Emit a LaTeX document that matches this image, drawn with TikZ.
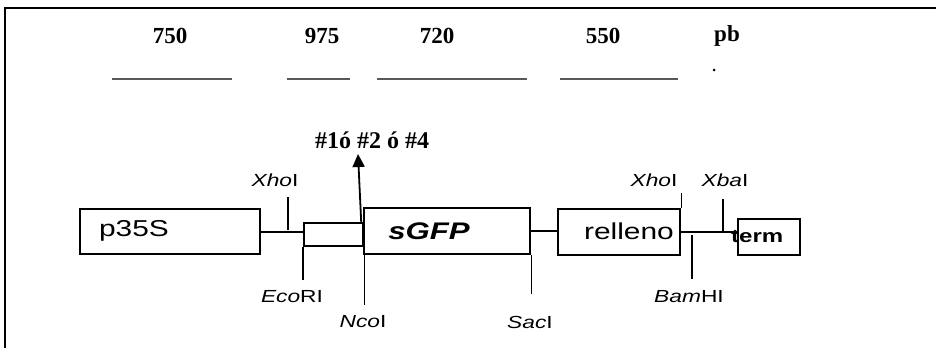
\documentclass[tikz,border=0pt]{standalone}
\usepackage{fontspec}
\setmainfont{Liberation Serif}
\setsansfont{Liberation Sans}
\usetikzlibrary{arrows.meta}
\newcommand{\wide}[1]{\scalebox{1.3}[1]{#1}}
\tikzset{
  segbox/.style={draw,line width=2.2pt,inner sep=0pt,anchor=north west},
  bigtxt/.style={font=\sffamily\fontsize{23}{23}\selectfont,inner sep=0pt},
  sitetxt/.style={font=\sffamily\fontsize{17.5}{17.5}\selectfont,inner sep=0pt},
  sizetxt/.style={font=\bfseries\fontsize{23}{23}\selectfont,inner sep=0pt},
  sizebar/.style={line width=1.1pt,black!65},
  cut/.style={line width=1.4pt}
}
\begin{document}
\begin{tikzpicture}[x=1pt,y=-1pt]
\useasboundingbox (0,0) rectangle (936,348);
% frame (only left and top)
\draw[line width=2pt] (5,348) -- (5,8) -- (936,8);

% fragment sizes
\node[sizetxt] (s750) at (170,36) {750};
\node[sizetxt] (s975) at (322,36) {975};
\node[sizetxt] (s720) at (437,36) {720};
\node[sizetxt] (s550) at (603,36) {550};
\node[sizetxt] (pb) at (727,36) {pb};
\draw[sizebar] (112,79) -- (232,79);
\draw[sizebar] (287,79) -- (350,79);
\draw[sizebar] (377,79) -- (527,79);
\draw[sizebar] (560,79) -- (678,79);
\fill (714,70) circle (1.5);

% construct
\node[segbox,minimum width=180pt,minimum height=45pt] (p35s) at (79,208) {};
\node[segbox,minimum width=59pt,minimum height=23pt] (link) at (303,222) {};
\node[segbox,minimum width=166pt,minimum height=46pt] (gfp) at (363,207) {};
\node[segbox,minimum width=122pt,minimum height=46pt] (relleno) at (557,208) {};
\node[segbox,minimum width=62pt,minimum height=36pt] (term) at (737,218) {};

\node[bigtxt] (p35stxt) at (134,231) {\wide{p35S}};
\node[bigtxt,font=\sffamily\bfseries\itshape\fontsize{24}{24}\selectfont] (gfptxt) at (429,231) {\wide{sGFP}};
\node[bigtxt] (rellenotxt) at (629,231) {\wide{relleno}};
\node[sitetxt,font=\sffamily\bfseries\fontsize{18.5}{18.5}\selectfont,anchor=west] (termtxt) at (731,237) {\wide{term}};

\draw[line width=1.8pt] (p35s.east) -- (p35s.east -| link.west);
\draw[line width=1.8pt] (gfp.east) -- (gfp.east -| relleno.west);
\draw[line width=1.8pt] (relleno.east) -- (relleno.east -| term.west);

% restriction sites
\coordinate (xho1) at (288,230);
\draw[cut] (xho1) -- ++(0,-33) coordinate (xho1top);
\node[sitetxt] (xho1txt) at (275,180) {\wide{\textit{Xho}I}};

\draw[cut] (link.south west) -- ++(0,33);
\node[sitetxt] (ecotxt) at (292,297) {\wide{\textit{Eco}RI}};

\draw[cut] (link.south east) -- ++(0,58);
\node[sitetxt] (ncotxt) at (363,322) {\wide{\textit{Nco}I}};

\draw[cut] (gfp.south east) -- ++(0,39);
\node[sitetxt] (sactxt) at (530,322) {\wide{\textit{Sac}I}};

\draw[cut] (relleno.north east) -- ++(0,-15);
\node[sitetxt] (xho2txt) at (654,180) {\wide{\textit{Xho}I}};

\coordinate (bam) at (692,235);
\draw[cut] (bam) -- ++(0,44);
\node[sitetxt] (bamtxt) at (689,297) {\wide{\textit{Bam}HI}};

\coordinate (xba) at (723,231);
\draw[cut] (xba) -- ++(0,-32);
\node[sitetxt] (xbatxt) at (725,180) {\wide{\textit{Xba}I}};

% insertion point
\coordinate (ins) at ([xshift=-3pt]link.north east);
\node[sizetxt,font=\bfseries\fontsize{24}{24}\selectfont] (instxt) at (372,140) {\#1ó \#2 ó \#4};
\draw[-{Triangle[length=13pt,width=12pt]},line width=1.8pt] (ins) -- (358,154);
\end{tikzpicture}
\end{document}
